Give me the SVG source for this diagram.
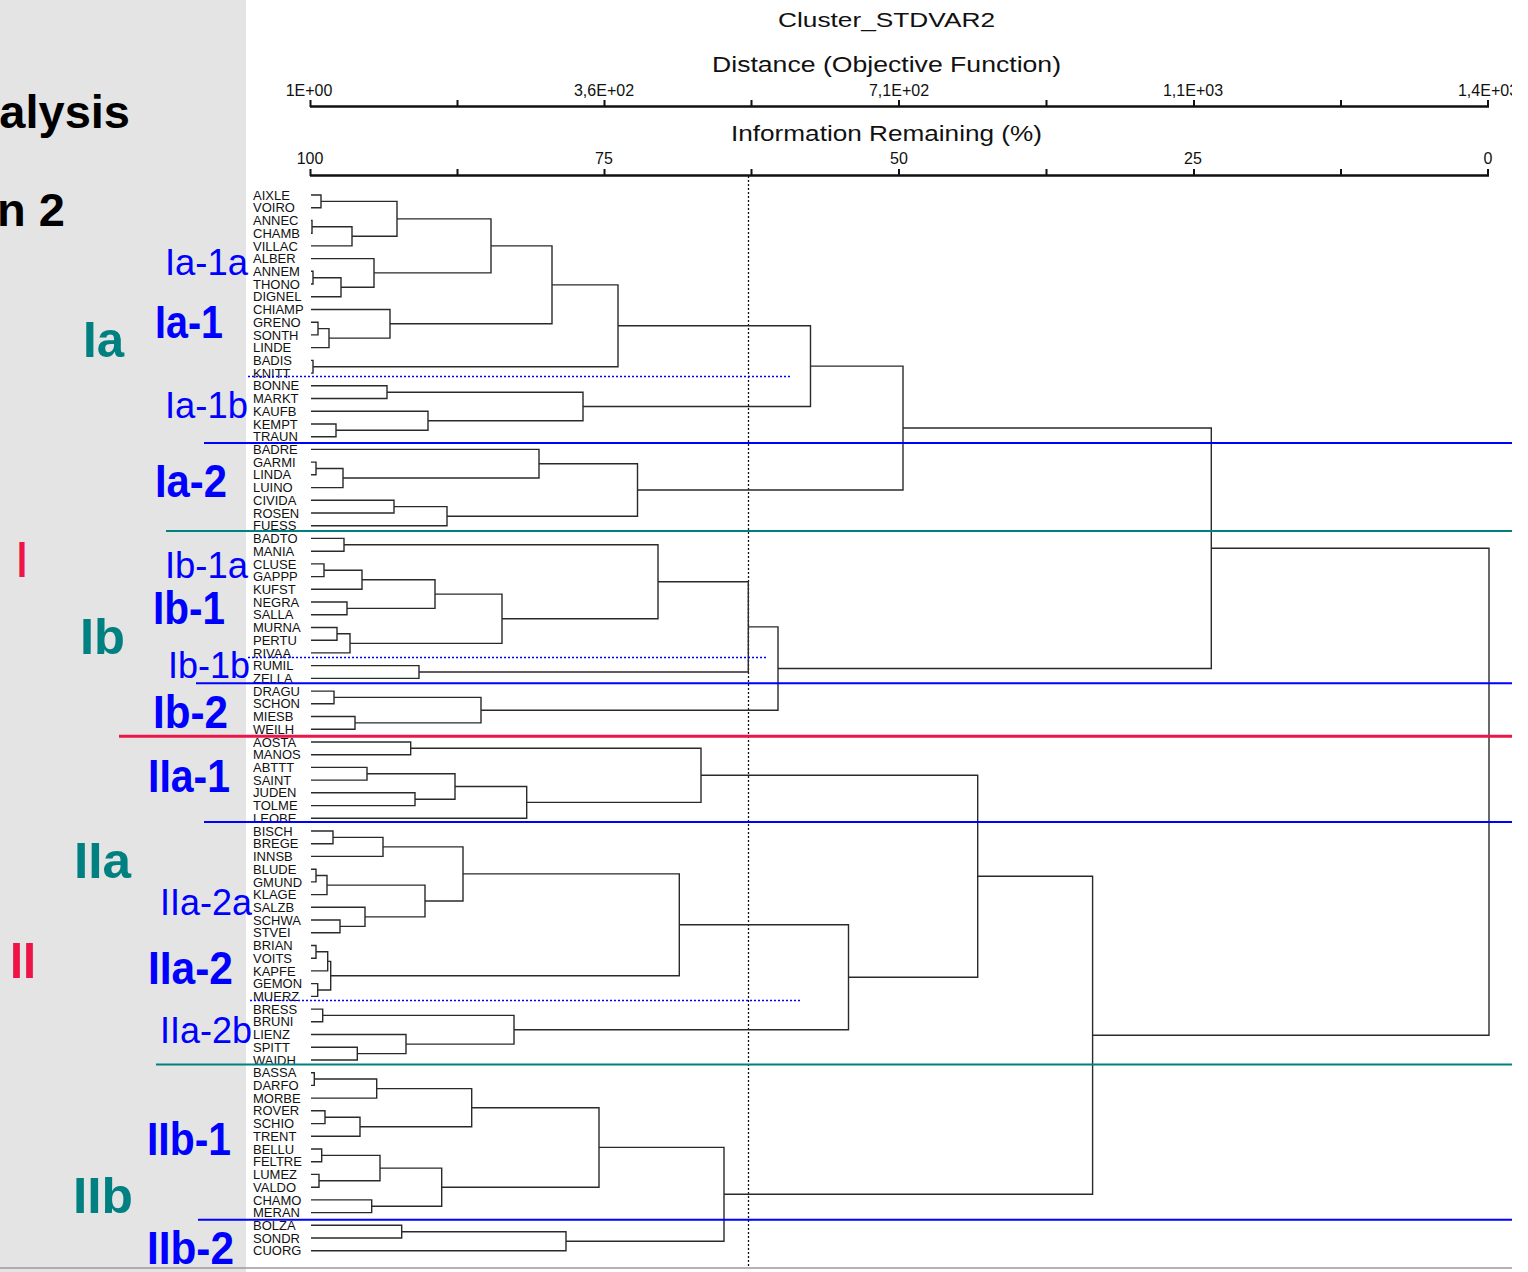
<svg xmlns="http://www.w3.org/2000/svg" width="1528" height="1272" viewBox="0 0 1528 1272">
<style>
.leaf{font-family:"Liberation Sans",Arial,sans-serif;font-size:13px;fill:#111}
.hdr{font-family:"Liberation Sans",Arial,sans-serif;fill:#111}
.ax{font-family:"Liberation Sans",Arial,sans-serif;font-size:16px;fill:#111;text-anchor:middle}
.br{fill:none;stroke:#2a2a2a;stroke-width:1.4}
.axis{stroke:#111;stroke-width:2.5;fill:none}
.tick{stroke:#111;stroke-width:2}
.big{font-family:"Liberation Sans",Arial,sans-serif;font-weight:bold}
.teal{fill:#008080;font-size:50px}
.red{fill:#EE1448;font-size:50px}
.bb{fill:#0000FF;font-size:46px}
.br2{fill:#0000FF;font-size:36px;font-weight:normal}
.bl{stroke:#0000FF;stroke-width:2}
.tl{stroke:#008080;stroke-width:2}
.rl{stroke:#EE1448;stroke-width:3}
.dot{stroke:#0000FF;stroke-width:1.5;stroke-dasharray:2 2}
</style>
<defs><clipPath id="clip"><rect x="0" y="0" width="1512" height="1272"/></clipPath></defs>
<rect x="0" y="0" width="1528" height="1272" fill="#ffffff"/>
<rect x="0" y="0" width="246" height="1272" fill="#E4E4E4"/>
<line x1="0" y1="1268" x2="1512" y2="1268" stroke="#9a9a9a" stroke-width="1.5"/>

<g id="title-left">
<text class="big" x="130" y="128" font-size="47" text-anchor="end" fill="#000">alysis</text>
<text class="big" x="65" y="226" font-size="47" text-anchor="end" fill="#000">n 2</text>
</g>

<g id="header" clip-path="url(#clip)">
<text class="hdr" x="778" y="27" font-size="21" textLength="217" lengthAdjust="spacingAndGlyphs">Cluster_STDVAR2</text>
<text class="hdr" x="712" y="72" font-size="22" textLength="349" lengthAdjust="spacingAndGlyphs">Distance (Objective Function)</text>
<text class="hdr" x="731" y="141" font-size="22" textLength="311" lengthAdjust="spacingAndGlyphs">Information Remaining (%)</text>
<text class="ax" x="309" y="96">1E+00</text>
<text class="ax" x="604" y="96">3,6E+02</text>
<text class="ax" x="899" y="96">7,1E+02</text>
<text class="ax" x="1193" y="96">1,1E+03</text>
<text class="ax" x="1488" y="96">1,4E+03</text>
<text class="ax" x="310" y="164">100</text>
<text class="ax" x="604" y="164">75</text>
<text class="ax" x="899" y="164">50</text>
<text class="ax" x="1193" y="164">25</text>
<text class="ax" x="1488" y="164">0</text>
<path class="axis" d="M310 106.5H1489M310 175.5H1489"/>
<path class="tick" d="M310.5 100V107M457.5 100V107M604.5 100V107M751.5 100V107M899 100V107M1046.5 100V107M1194 100V107M1341 100V107M1488 100V107M310.5 169V176M457.5 169V176M604.5 169V176M751.5 169V176M899 169V176M1046.5 169V176M1194 169V176M1341 169V176M1488 169V176"/>
</g>

<g id="leaves">
<text class="leaf" x="253" y="199.6">AIXLE</text>
<text class="leaf" x="253" y="212.3">VOIRO</text>
<text class="leaf" x="253" y="225.0">ANNEC</text>
<text class="leaf" x="253" y="237.8">CHAMB</text>
<text class="leaf" x="253" y="250.5">VILLAC</text>
<text class="leaf" x="253" y="263.2">ALBER</text>
<text class="leaf" x="253" y="275.9">ANNEM</text>
<text class="leaf" x="253" y="288.6">THONO</text>
<text class="leaf" x="253" y="301.4">DIGNEL</text>
<text class="leaf" x="253" y="314.1">CHIAMP</text>
<text class="leaf" x="253" y="326.8">GRENO</text>
<text class="leaf" x="253" y="339.5">SONTH</text>
<text class="leaf" x="253" y="352.2">LINDE</text>
<text class="leaf" x="253" y="365.0">BADIS</text>
<text class="leaf" x="253" y="377.7">KNITT</text>
<text class="leaf" x="253" y="390.4">BONNE</text>
<text class="leaf" x="253" y="403.1">MARKT</text>
<text class="leaf" x="253" y="415.8">KAUFB</text>
<text class="leaf" x="253" y="428.6">KEMPT</text>
<text class="leaf" x="253" y="441.3">TRAUN</text>
<text class="leaf" x="253" y="454.0">BADRE</text>
<text class="leaf" x="253" y="466.7">GARMI</text>
<text class="leaf" x="253" y="479.4">LINDA</text>
<text class="leaf" x="253" y="492.2">LUINO</text>
<text class="leaf" x="253" y="504.9">CIVIDA</text>
<text class="leaf" x="253" y="517.6">ROSEN</text>
<text class="leaf" x="253" y="530.3">FUESS</text>
<text class="leaf" x="253" y="543.0">BADTO</text>
<text class="leaf" x="253" y="555.8">MANIA</text>
<text class="leaf" x="253" y="568.5">CLUSE</text>
<text class="leaf" x="253" y="581.2">GAPPP</text>
<text class="leaf" x="253" y="593.9">KUFST</text>
<text class="leaf" x="253" y="606.6">NEGRA</text>
<text class="leaf" x="253" y="619.4">SALLA</text>
<text class="leaf" x="253" y="632.1">MURNA</text>
<text class="leaf" x="253" y="644.8">PERTU</text>
<text class="leaf" x="253" y="657.5">RIVAA</text>
<text class="leaf" x="253" y="670.2">RUMIL</text>
<text class="leaf" x="253" y="683.0">ZELLA</text>
<text class="leaf" x="253" y="695.7">DRAGU</text>
<text class="leaf" x="253" y="708.4">SCHON</text>
<text class="leaf" x="253" y="721.1">MIESB</text>
<text class="leaf" x="253" y="733.8">WEILH</text>
<text class="leaf" x="253" y="746.6">AOSTA</text>
<text class="leaf" x="253" y="759.3">MANOS</text>
<text class="leaf" x="253" y="772.0">ABTTT</text>
<text class="leaf" x="253" y="784.7">SAINT</text>
<text class="leaf" x="253" y="797.4">JUDEN</text>
<text class="leaf" x="253" y="810.2">TOLME</text>
<text class="leaf" x="253" y="822.9">LEOBE</text>
<text class="leaf" x="253" y="835.6">BISCH</text>
<text class="leaf" x="253" y="848.3">BREGE</text>
<text class="leaf" x="253" y="861.0">INNSB</text>
<text class="leaf" x="253" y="873.8">BLUDE</text>
<text class="leaf" x="253" y="886.5">GMUND</text>
<text class="leaf" x="253" y="899.2">KLAGE</text>
<text class="leaf" x="253" y="911.9">SALZB</text>
<text class="leaf" x="253" y="924.6">SCHWA</text>
<text class="leaf" x="253" y="937.4">STVEI</text>
<text class="leaf" x="253" y="950.1">BRIAN</text>
<text class="leaf" x="253" y="962.8">VOITS</text>
<text class="leaf" x="253" y="975.5">KAPFE</text>
<text class="leaf" x="253" y="988.2">GEMON</text>
<text class="leaf" x="253" y="1001.0">MUERZ</text>
<text class="leaf" x="253" y="1013.7">BRESS</text>
<text class="leaf" x="253" y="1026.4">BRUNI</text>
<text class="leaf" x="253" y="1039.1">LIENZ</text>
<text class="leaf" x="253" y="1051.8">SPITT</text>
<text class="leaf" x="253" y="1064.6">WAIDH</text>
<text class="leaf" x="253" y="1077.3">BASSA</text>
<text class="leaf" x="253" y="1090.0">DARFO</text>
<text class="leaf" x="253" y="1102.7">MORBE</text>
<text class="leaf" x="253" y="1115.4">ROVER</text>
<text class="leaf" x="253" y="1128.2">SCHIO</text>
<text class="leaf" x="253" y="1140.9">TRENT</text>
<text class="leaf" x="253" y="1153.6">BELLU</text>
<text class="leaf" x="253" y="1166.3">FELTRE</text>
<text class="leaf" x="253" y="1179.0">LUMEZ</text>
<text class="leaf" x="253" y="1191.8">VALDO</text>
<text class="leaf" x="253" y="1204.5">CHAMO</text>
<text class="leaf" x="253" y="1217.2">MERAN</text>
<text class="leaf" x="253" y="1229.9">BOLZA</text>
<text class="leaf" x="253" y="1242.6">SONDR</text>
<text class="leaf" x="253" y="1255.4">CUORG</text>
</g>

<g id="connectors">
<line x1="748.5" y1="176" x2="748.5" y2="1268" stroke="#111" stroke-width="1.3" stroke-dasharray="2 2"/>
<path class="br" d="M311 195.0H321V207.7H311"/>
<path class="br" d="M311 220.4H312V233.2H311"/>
<path class="br" d="M312 226.8H352V245.9H311"/>
<path class="br" d="M321 201.4H397V236.3H352"/>
<path class="br" d="M311 271.3H313V284.0H311"/>
<path class="br" d="M313 277.7H341V296.8H311"/>
<path class="br" d="M311 258.6H374V287.2H341"/>
<path class="br" d="M397 218.9H491V272.9H374"/>
<path class="br" d="M311 322.2H318V334.9H311"/>
<path class="br" d="M318 328.6H329V347.6H311"/>
<path class="br" d="M311 309.5H390V338.1H329"/>
<path class="br" d="M491 245.9H552V323.8H390"/>
<path class="br" d="M311 360.4H313V373.1H311"/>
<path class="br" d="M552 284.9H618V366.7H313"/>
<path class="br" d="M311 385.8H387V398.5H311"/>
<path class="br" d="M311 424.0H336V436.7H311"/>
<path class="br" d="M311 411.2H428V430.3H336"/>
<path class="br" d="M387 392.2H583V420.8H428"/>
<path class="br" d="M618 325.8H810.5V406.5H583"/>
<path class="br" d="M311 462.1H316V474.8H311"/>
<path class="br" d="M316 468.5H343V487.6H311"/>
<path class="br" d="M311 449.4H539V478.0H343"/>
<path class="br" d="M311 500.3H394V513.0H311"/>
<path class="br" d="M394 506.6H447V525.7H311"/>
<path class="br" d="M539 463.7H637.5V516.2H447"/>
<path class="br" d="M810.5 366.1H903V490.0H637.5"/>
<path class="br" d="M311 538.4H344V551.2H311"/>
<path class="br" d="M311 563.9H324V576.6H311"/>
<path class="br" d="M324 570.2H362V589.3H311"/>
<path class="br" d="M311 602.0H347V614.8H311"/>
<path class="br" d="M362 579.8H435V608.4H347"/>
<path class="br" d="M311 627.5H337V640.2H311"/>
<path class="br" d="M337 633.8H350V652.9H311"/>
<path class="br" d="M435 594.1H502V643.4H350"/>
<path class="br" d="M344 544.8H658V618.7H502"/>
<path class="br" d="M311 665.6H419V678.4H311"/>
<path class="br" d="M658 581.8H748.3V672.0H419"/>
<path class="br" d="M311 691.1H334V703.8H311"/>
<path class="br" d="M311 716.5H355V729.2H311"/>
<path class="br" d="M334 697.4H481V722.9H355"/>
<path class="br" d="M748.3 626.9H778V710.2H481"/>
<path class="br" d="M903 428.0H1211.3V668.5H778"/>
<path class="br" d="M311 742.0H410.7V754.7H311"/>
<path class="br" d="M311 767.4H367V780.1H311"/>
<path class="br" d="M311 792.8H415V805.6H311"/>
<path class="br" d="M367 773.8H455V799.2H415"/>
<path class="br" d="M455 786.5H526.7V818.3H311"/>
<path class="br" d="M410.7 748.3H701V802.4H526.7"/>
<path class="br" d="M311 831.0H333V843.7H311"/>
<path class="br" d="M333 837.4H383V856.4H311"/>
<path class="br" d="M311 869.2H316V881.9H311"/>
<path class="br" d="M316 875.5H327V894.6H311"/>
<path class="br" d="M311 920.0H340V932.8H311"/>
<path class="br" d="M311 907.3H365V926.4H340"/>
<path class="br" d="M327 885.1H425V916.9H365"/>
<path class="br" d="M383 846.9H463V901.0H425"/>
<path class="br" d="M311 945.5H316V958.2H311"/>
<path class="br" d="M316 951.8H327.7V970.9H311"/>
<path class="br" d="M311 983.6H317.7V996.4H311"/>
<path class="br" d="M327.7 961.4H330.7V990.0H317.7"/>
<path class="br" d="M463 873.9H679.3V975.7H330.7"/>
<path class="br" d="M311 1009.1H322.7V1021.8H311"/>
<path class="br" d="M311 1047.2H357.3V1060.0H311"/>
<path class="br" d="M311 1034.5H406V1053.6H357.3"/>
<path class="br" d="M322.7 1015.4H514V1044.1H406"/>
<path class="br" d="M679.3 924.8H848.5V1029.7H514"/>
<path class="br" d="M701 775.3H977.7V977.3H848.5"/>
<path class="br" d="M311 1072.7H314.3V1085.4H311"/>
<path class="br" d="M314.3 1079.0H376.7V1098.1H311"/>
<path class="br" d="M311 1110.8H325V1123.6H311"/>
<path class="br" d="M325 1117.2H360V1136.3H311"/>
<path class="br" d="M376.7 1088.6H471.7V1126.7H360"/>
<path class="br" d="M311 1149.0H321.7V1161.7H311"/>
<path class="br" d="M311 1174.4H319V1187.2H311"/>
<path class="br" d="M321.7 1155.4H380V1180.8H319"/>
<path class="br" d="M311 1199.9H371.7V1212.6H311"/>
<path class="br" d="M380 1168.1H441.7V1206.2H371.7"/>
<path class="br" d="M471.7 1107.7H599V1187.2H441.7"/>
<path class="br" d="M311 1225.3H401.7V1238.0H311"/>
<path class="br" d="M401.7 1231.7H566V1250.8H311"/>
<path class="br" d="M599 1147.4H724V1241.2H566"/>
<path class="br" d="M977.7 876.3H1092.6V1194.3H724"/>
<path class="br" d="M1211.3 548.2H1489V1035.3H1092.6"/>
</g>

<g id="cut-lines">
<line class="dot" x1="248" y1="376.5" x2="791" y2="376.5"/>
<line class="dot" x1="248" y1="657.5" x2="767" y2="657.5"/>
<line class="dot" x1="250" y1="1000.5" x2="800" y2="1000.5"/>
<line class="bl" x1="204" y1="443" x2="1512" y2="443"/>
<line class="bl" x1="196" y1="683.3" x2="1512" y2="683.3"/>
<line class="bl" x1="204" y1="822" x2="1512" y2="822"/>
<line class="bl" x1="198" y1="1219.7" x2="1512" y2="1219.7"/>
<line class="tl" x1="166" y1="531" x2="1512" y2="531"/>
<line class="tl" x1="156" y1="1064.6" x2="1512" y2="1064.6"/>
<line class="rl" x1="119" y1="736.3" x2="1512" y2="736.3"/>
</g>

<g id="group-labels">
<text class="big teal" x="83" y="357" textLength="41" lengthAdjust="spacingAndGlyphs">Ia</text>
<text class="big teal" x="80" y="654" textLength="45" lengthAdjust="spacingAndGlyphs">Ib</text>
<text class="big teal" x="74" y="878" textLength="57" lengthAdjust="spacingAndGlyphs">IIa</text>
<text class="big teal" x="73" y="1213" textLength="60" lengthAdjust="spacingAndGlyphs">IIb</text>
<text class="big red" x="17" y="577" textLength="10" lengthAdjust="spacingAndGlyphs">I</text>
<text class="big red" x="10" y="978" textLength="26" lengthAdjust="spacingAndGlyphs">II</text>
<text class="big bb" x="155" y="338" textLength="68" lengthAdjust="spacingAndGlyphs">Ia-1</text>
<text class="big bb" x="155" y="497" textLength="72" lengthAdjust="spacingAndGlyphs">Ia-2</text>
<text class="big bb" x="153" y="624" textLength="72" lengthAdjust="spacingAndGlyphs">Ib-1</text>
<text class="big bb" x="153" y="728" textLength="75" lengthAdjust="spacingAndGlyphs">Ib-2</text>
<text class="big bb" x="148" y="792" textLength="82" lengthAdjust="spacingAndGlyphs">IIa-1</text>
<text class="big bb" x="148" y="984" textLength="85" lengthAdjust="spacingAndGlyphs">IIa-2</text>
<text class="big bb" x="147" y="1155" textLength="84" lengthAdjust="spacingAndGlyphs">IIb-1</text>
<text class="big bb" x="147" y="1264" textLength="87" lengthAdjust="spacingAndGlyphs">IIb-2</text>
<text class="big br2" x="165" y="275" textLength="83" lengthAdjust="spacingAndGlyphs">Ia-1a</text>
<text class="big br2" x="165" y="418" textLength="83" lengthAdjust="spacingAndGlyphs">Ia-1b</text>
<text class="big br2" x="165" y="578" textLength="83" lengthAdjust="spacingAndGlyphs">Ib-1a</text>
<text class="big br2" x="168" y="678" textLength="82" lengthAdjust="spacingAndGlyphs">Ib-1b</text>
<text class="big br2" x="160" y="915" textLength="92" lengthAdjust="spacingAndGlyphs">IIa-2a</text>
<text class="big br2" x="160" y="1043" textLength="92" lengthAdjust="spacingAndGlyphs">IIa-2b</text>
</g>
</svg>
